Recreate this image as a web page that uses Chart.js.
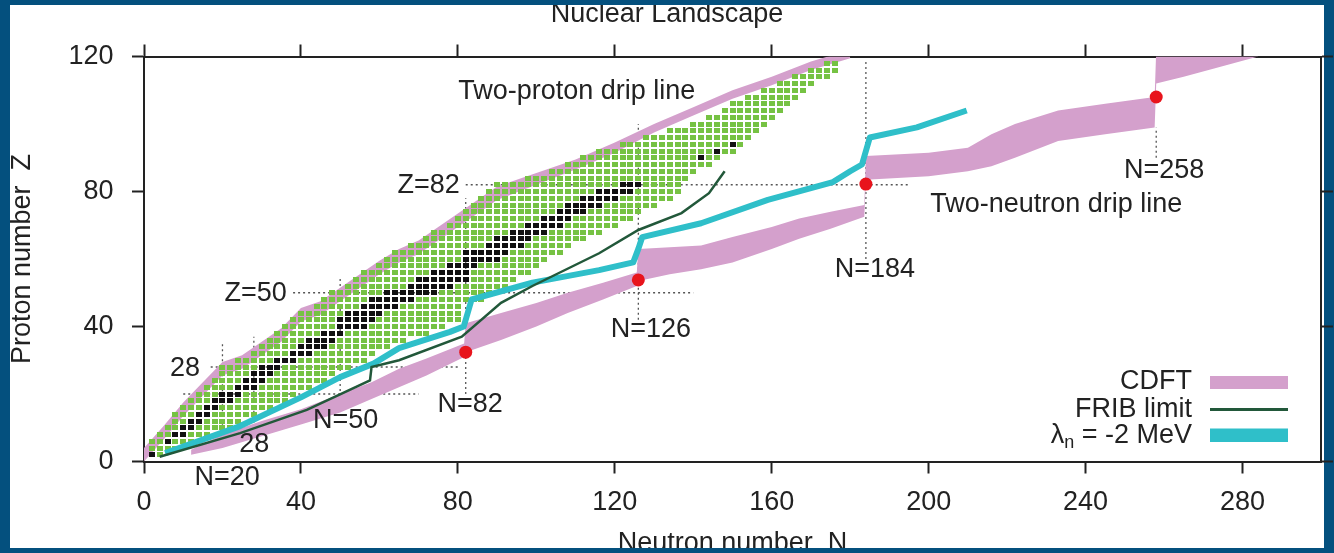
<!DOCTYPE html>
<html>
<head>
<meta charset="utf-8">
<script src="https://cdn.jsdelivr.net/npm/chart.js@4.4.0/dist/chart.umd.min.js"></script>
<style>
html, body { margin: 0; padding: 0; width: 1334px; height: 553px; overflow: hidden; background: #04507e; }
#panel { position: absolute; left: 10px; top: 5px; width: 1314px; height: 543px; background: #fff; }
#chart { position: absolute; left: 0; top: 0; clip-path: inset(5px 0 32px 10px); }
</style>
</head>
<body>
<div id="panel"></div>
<canvas id="chart" width="1334" height="580"></canvas>
<script>
// known even-even nuclei: for each even Z the lightest and heaviest even N shown
var knownZ    = [2, 4, 6, 8, 10, 12, 14, 16, 18, 20, 22, 24, 26, 28, 30, 32, 34, 36, 38, 40,
                 42, 44, 46, 48, 50, 52, 54, 56, 58, 60, 62, 64, 66, 68, 70, 72, 74, 76, 78, 80,
                 82, 84, 86, 88, 90, 92, 94, 96, 98, 100, 102, 104, 106, 108, 110, 112, 114, 116, 118];
var knownNMin = [2, 2, 2, 4, 6, 8, 8, 10, 12, 14, 16, 18, 20, 20, 24, 28, 30, 32, 34, 36,
                 38, 40, 44, 46, 48, 52, 54, 56, 60, 62, 64, 68, 72, 74, 78, 80, 82, 84, 86, 88,
                 90, 98, 104, 108, 112, 116, 122, 128, 134, 140, 144, 148, 150, 154, 158, 162, 166, 170, 174];
var knownNMax = [4, 8, 12, 16, 22, 24, 28, 32, 36, 38, 42, 46, 48, 52, 56, 58, 62, 66, 72, 76,
                 80, 80, 80, 86, 88, 92, 95, 98, 100, 103, 106, 108, 112, 116, 120, 124, 127, 131, 134, 136,
                 136, 138, 140, 144, 146, 150, 152, 154, 156, 158, 160, 162, 164, 166, 168, 170, 174, 176, 176];

// stable even-even nuclei (black squares)
var stableZ      = [2, 6, 8, 10, 12, 14, 16, 18, 20, 22, 24, 26, 28, 30, 32, 34, 36, 38, 40, 42, 44, 46,
                    48, 50, 52, 54, 56, 58, 60, 62, 64, 66, 68, 70, 72, 74, 76, 78, 80, 82, 90, 92, 94];
var stableNFirst = [2, 6, 8, 10, 12, 14, 16, 18, 20, 24, 26, 28, 30, 34, 38, 40, 42, 46, 50, 50, 52, 56,
                    58, 62, 68, 70, 74, 78, 82, 82, 88, 90, 94, 98, 102, 106, 108, 112, 116, 122, 142, 146, 150];
var stableNLast  = [2, 6, 10, 12, 14, 16, 18, 22, 24, 28, 30, 32, 34, 38, 42, 46, 48, 50, 56, 58, 60, 64,
                    68, 74, 78, 82, 82, 84, 90, 92, 96, 98, 102, 106, 108, 112, 116, 120, 124, 126, 142, 146, 150];

// CDFT two-proton drip line band
var pDripN  = [0, 5, 10, 15, 20, 25, 30, 35, 40, 45, 50, 55, 60, 65, 70, 75, 80, 85, 90,
               100, 110, 120, 130, 140, 150, 160, 170, 180];
var pDripLo = [0, 6.5, 13.5, 19.5, 25.5, 27.5, 31.5, 35.5, 41.5, 43.5, 47.5, 51.5, 55.5, 59, 61.5, 65.5, 69.5, 73.5, 77.5,
               82, 86.5, 91.5, 97.5, 102.5, 107.5, 111.5, 116, 119.5];
var pDripHi = [4, 10.5, 17.5, 23.5, 29.5, 31.5, 35.5, 39.5, 45.5, 47.5, 51.5, 55.5, 59.5, 63, 65.5, 69.5, 73.5, 77.5, 81.5,
               85.5, 89.5, 94.5, 100, 105, 110, 114, 118.5, 122];

// CDFT two-neutron drip line band
var nDripN  = [12, 20, 30, 40, 50, 58, 65, 72, 81.6, 82, 91, 100, 108, 117, 125.6, 126, 134, 142, 150,
               160, 167, 175, 183.6, 184, 200, 210, 216, 222, 233, 245, 257.6, 258, 265, 273, 284];
var nDripLo = [2, 4, 7.5, 11, 14.5, 18.5, 22, 25.5, 31, 32.4, 36, 40, 44, 48, 52, 53.5, 55.5, 57, 59,
               63, 66, 69, 72.5, 83.5, 84.5, 86, 87.5, 90, 95, 97, 99, 112, 114, 116.5, 120];
var nDripHi = [3.5, 8, 12, 15.5, 20, 23.5, 27.5, 30.5, 35, 41, 44, 47, 50, 53, 56, 63, 63.5, 64, 66.5,
               69.5, 72, 74, 76, 90.5, 91.5, 93, 97, 100, 104, 106, 108, 122, 122, 122, 122];

// FRIB limit
var fribN = [4, 24.5, 41.5, 57.6, 58, 65, 81, 91, 99, 116, 126, 137, 144, 148];
var fribZ = [1.4, 8.4, 15.3, 24, 28, 30, 37, 47, 52, 61.7, 68.6, 73.6, 79.5, 86];

// lambda_n = -2 MeV
var lamN = [5.4, 24.5, 40, 50, 58.5, 65, 78, 81.5, 82.5, 83.5, 99, 116, 124.7, 126, 127,
            142, 159, 175.6, 180, 183, 184, 185, 197, 209.7];
var lamZ = [2.5, 10.5, 19, 25, 29, 33.6, 38.4, 40, 44, 48, 53, 56.7, 59, 63, 66.5,
            70.6, 77.5, 82.8, 86, 88, 92, 96, 99, 104];

// drip line points at the neutron magic numbers
var redN = [82, 126, 184, 258];
var redZ = [32.4, 53.8, 82.2, 108];

// magic number guide lines
var magicZ     = [82, 50, 28, 20];
var magicZFrom = [82, 38, 17, 10];
var magicZTo   = [195, 140, 80, 70];
var magicN     = [20, 28, 50, 82, 126, 184, 258];
var magicNFrom = [4.5, 10, 15, 20, 42, 60, 90];
var magicNTo   = [35, 37, 55, 78, 100, 119, 99];

var noteText  = ['Two-proton drip line', 'Two-neutron drip line', 'Z=82', 'Z=50', '28', '28',
                 'N=20', 'N=50', 'N=82', 'N=126', 'N=184', 'N=258'];
var noteN     = [80.1, 200.4, 80.5, 36.4, 14.3, 28.1, 21.2, 51.4, 83.1, 129.2, 186.3, 260];
var noteZ     = [109.7, 76.1, 81.8, 49.7, 27.5, 5.0, -4.9, 12.1, 16.9, 39.1, 56.9, 86.2];
var noteAlign = ['left', 'left', 'right', 'right', 'right', 'center',
                 'center', 'center', 'center', 'center', 'center', 'center'];

var FAMILY = '"Liberation Sans", Arial, Helvetica, sans-serif';
var INK = '#222';
var PINK = '#d4a0cc';
var CYAN = '#2fbfc9';
var FRIB = '#22583a';

Chart.defaults.font.family = FAMILY;
Chart.defaults.font.size = 27;
Chart.defaults.color = INK;

function cell(color) {
    var c = document.createElement('canvas');
    c.width = 6;
    c.height = 5;
    var g = c.getContext('2d');
    g.fillStyle = color;
    g.fillRect(0, 0, 6, 5);
    return c;
}

function zip(xs, ys) {
    var out = [];
    for (var i = 0; i < xs.length; i++) {
        out.push({x: xs[i], y: ys[i]});
    }
    return out;
}

var knownPts = [];
for (var i = 0; i < knownZ.length; i++) {
    for (var n = knownNMin[i]; n <= knownNMax[i]; n += 2) {
        knownPts.push({x: n, y: knownZ[i]});
    }
}
var stablePts = [];
for (var i = 0; i < stableZ.length; i++) {
    for (var n = stableNFirst[i]; n <= stableNLast[i]; n += 2) {
        stablePts.push({x: n, y: stableZ[i]});
    }
}
var guidePts = [];
for (var i = 0; i < magicZ.length; i++) {
    guidePts.push({x: magicZFrom[i], y: magicZ[i]}, {x: magicZTo[i], y: magicZ[i]}, {x: magicZTo[i], y: null});
}
for (var i = 0; i < magicN.length; i++) {
    guidePts.push({x: magicN[i], y: magicNFrom[i]}, {x: magicN[i], y: magicNTo[i]}, {x: magicN[i], y: null});
}

var noLine = {borderWidth: 0, pointRadius: 0, showLine: true};

function band(xs, lo, hi) {
    return [
        Object.assign({label: 'lo', data: zip(xs, lo), order: 9, fill: false}, noLine),
        Object.assign({label: 'CDFT', data: zip(xs, hi), order: 9, fill: '-1', backgroundColor: PINK}, noLine)
    ];
}

var notesPlugin = {
    id: 'notes',
    afterDraw: function (chart) {
        var ctx = chart.ctx;
        var xs = chart.scales.x;
        var ys = chart.scales.y;
        var area = chart.chartArea;
        ctx.save();
        ctx.fillStyle = INK;
        ctx.font = '27px ' + FAMILY;
        ctx.textBaseline = 'middle';
        for (var i = 0; i < noteText.length; i++) {
            ctx.textAlign = noteAlign[i];
            ctx.fillText(noteText[i], xs.getPixelForValue(noteN[i]), ys.getPixelForValue(noteZ[i]));
        }

        // legend, bottom right of the plot
        var right = area.right - 129;
        var sx = area.right - 111;
        ctx.textAlign = 'right';
        ctx.fillText('CDFT', right, area.top + 325.5);
        ctx.fillText('FRIB limit', right, area.top + 353.5);
        var rest = ' = -2 MeV';
        var y3 = area.top + 379;
        ctx.fillText(rest, right, y3);
        var w = ctx.measureText(rest).width;
        ctx.font = '18px ' + FAMILY;
        ctx.fillText('n', right - w, y3 + 8);
        var wn = ctx.measureText('n').width;
        ctx.font = '27px ' + FAMILY;
        ctx.fillText('\u03bb', right - w - wn, y3);

        ctx.fillStyle = PINK;
        ctx.fillRect(sx, area.top + 319.5, 78, 13);
        ctx.strokeStyle = FRIB;
        ctx.lineWidth = 3;
        ctx.beginPath();
        ctx.moveTo(sx, area.top + 353);
        ctx.lineTo(sx + 78, area.top + 353);
        ctx.stroke();
        ctx.fillStyle = CYAN;
        ctx.fillRect(sx, area.top + 372, 78, 13.5);
        ctx.restore();
    }
};

var axisGrid = {drawOnChartArea: false, drawTicks: true, tickLength: 12, tickWidth: 2, tickColor: INK, color: INK};
var axisBorder = {display: true, color: INK, width: 2};

var datasets = [];
datasets.push({label: 'guides', data: guidePts, order: 10, showLine: true, pointRadius: 0,
    borderColor: '#555', borderWidth: 1.3, borderDash: [2, 3], spanGaps: false, fill: false});
datasets = datasets.concat(band(pDripN, pDripLo, pDripHi));
datasets = datasets.concat(band(nDripN, nDripLo, nDripHi));
datasets.push({label: 'known', data: knownPts, order: 7, showLine: false, pointRadius: 3, pointStyle: cell('#76c243')});
datasets.push({label: 'stable', data: stablePts, order: 6, showLine: false, pointRadius: 3, pointStyle: cell('#111')});
datasets.push({label: 'lambda', data: zip(lamN, lamZ), order: 5, showLine: true, pointRadius: 0,
    borderColor: CYAN, borderWidth: 6, fill: false, borderJoinStyle: 'round'});
datasets.push({label: 'FRIB limit', data: zip(fribN, fribZ), order: 4, showLine: true, pointRadius: 0,
    borderColor: FRIB, borderWidth: 2.5, fill: false});
datasets.push({label: 'drip', data: zip(redN, redZ), order: 1, showLine: false, pointRadius: 6.5,
    pointBackgroundColor: '#e8141c', pointBorderWidth: 0, pointStyle: 'circle'});

new Chart(document.getElementById('chart'), {
    type: 'line',
    data: {datasets: datasets},
    options: {
        responsive: false,
        animation: false,
        events: [],
        layout: {padding: 0},
        elements: {line: {tension: 0}},
        plugins: {
            legend: {display: false},
            tooltip: {enabled: false},
            title: {
                display: true,
                text: 'Nuclear Landscape',
                color: INK,
                font: {size: 27, weight: 'normal'},
                padding: {top: -2, bottom: 0}
            }
        },
        scales: {
            x: {
                type: 'linear', position: 'bottom', min: 0, max: 300,
                afterFit: function (s) { s.height = 118.5; },
                ticks: {stepSize: 40, includeBounds: false, padding: 12.5, color: INK, font: {size: 27}},
                grid: axisGrid,
                border: axisBorder,
                title: {display: true, text: 'Neutron number  N', color: INK, font: {size: 27},
                    padding: {top: 0, bottom: 20.5}}
            },
            x2: {
                type: 'linear', position: 'top', min: 0, max: 300,
                afterFit: function (s) { s.height = 26.1; },
                ticks: {display: false, stepSize: 40, includeBounds: false},
                grid: axisGrid,
                border: axisBorder
            },
            y: {
                type: 'linear', position: 'left', min: 0, max: 120,
                afterFit: function (s) { s.width = 144; },
                ticks: {stepSize: 40, padding: 18.5, color: INK, font: {size: 27}},
                grid: axisGrid,
                border: axisBorder,
                title: {display: true, text: 'Proton number  Z', color: INK, font: {size: 27},
                    padding: {top: 6, bottom: 0}}
            },
            y2: {
                type: 'linear', position: 'right', min: 0, max: 120,
                afterFit: function (s) { s.width = 13; },
                ticks: {display: false, stepSize: 40},
                grid: axisGrid,
                border: axisBorder
            }
        }
    },
    plugins: [notesPlugin]
});
</script>
</body>
</html>
